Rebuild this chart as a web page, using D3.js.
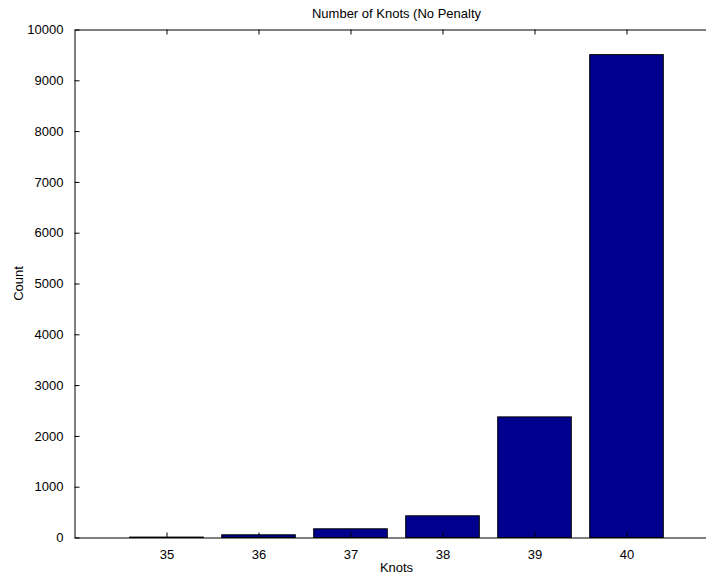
<!DOCTYPE html>
<html>
<head>
<meta charset="utf-8">
<script src="https://cdn.jsdelivr.net/npm/d3@7"></script>
<style>
  body { margin: 0; background: #fff; }
  text { font-family: "Liberation Sans", Arial, sans-serif; fill: #000; }
</style>
</head>
<body>
<svg id="chart" width="706" height="577"></svg>
<script>
// data
var knots = [35, 36, 37, 38, 39, 40];
var counts = [8, 53, 171, 427, 2374, 9505];
var yTicks = [0, 1000, 2000, 3000, 4000, 5000, 6000, 7000, 8000, 9000, 10000];

var margin = { left: 74.5, top: 29.5, right: 718.5, bottom: 537.5 };
var svg = d3.select("#chart");

// x is numeric, 34..41 like the matlab axes
var x = d3.scaleLinear().domain([34, 41]).range([margin.left, margin.right]);
var y = d3.scaleLinear().domain([0, 10000]).range([margin.bottom, margin.top]);
var barW = (x(1) - x(0)) * 0.8;

// bars
svg.append("g").selectAll("rect")
    .data(knots)
    .enter().append("rect")
    .attr("x", function(d) { return x(d) - barW / 2; })
    .attr("width", barW)
    .attr("y", function(d, i) { return y(counts[i]); })
    .attr("height", function(d, i) { return y(0) - y(counts[i]); })
    .style("fill", "#00008f")
    .style("stroke", "#000")
    .style("stroke-width", 1);

// axes, ticks pointing inward
var fmt = d3.format("d");
var axBottom = svg.append("g")
    .attr("transform", "translate(0," + margin.bottom + ")")
    .call(d3.axisBottom(x).tickValues(knots).tickFormat(fmt).tickSizeInner(-5).tickSizeOuter(0).tickPadding(12));
var axTop = svg.append("g")
    .attr("transform", "translate(0," + margin.top + ")")
    .call(d3.axisTop(x).tickValues(knots).tickSizeInner(-5).tickSizeOuter(0).tickFormat(""));
var axLeft = svg.append("g")
    .attr("transform", "translate(" + margin.left + ",0)")
    .call(d3.axisLeft(y).tickValues(yTicks).tickFormat(fmt).tickSizeInner(-5).tickSizeOuter(0).tickPadding(11));
var axRight = svg.append("g")
    .attr("transform", "translate(" + margin.right + ",0)")
    .call(d3.axisRight(y).tickValues(yTicks).tickSizeInner(-5).tickSizeOuter(0).tickFormat(""));

[axBottom, axTop, axLeft, axRight].forEach(function(a) {
  a.selectAll("path, line").style("stroke", "#000").style("stroke-width", 1);
  a.selectAll("text").style("font-size", "13px").style("font-family", "Liberation Sans, Arial, sans-serif");
});

// labels
var cx = (margin.left + margin.right) / 2;
svg.append("text").attr("x", cx).attr("y", 18)
    .attr("text-anchor", "middle").style("font-size", "13px")
    .text("Number of Knots (No Penalty");
svg.append("text").attr("x", cx).attr("y", 572)
    .attr("text-anchor", "middle").style("font-size", "13px")
    .text("Knots");
svg.append("text")
    .attr("transform", "translate(23," + (margin.top + margin.bottom) / 2 + ") rotate(-90)")
    .attr("text-anchor", "middle").style("font-size", "13px")
    .text("Count");
</script>
</body>
</html>
